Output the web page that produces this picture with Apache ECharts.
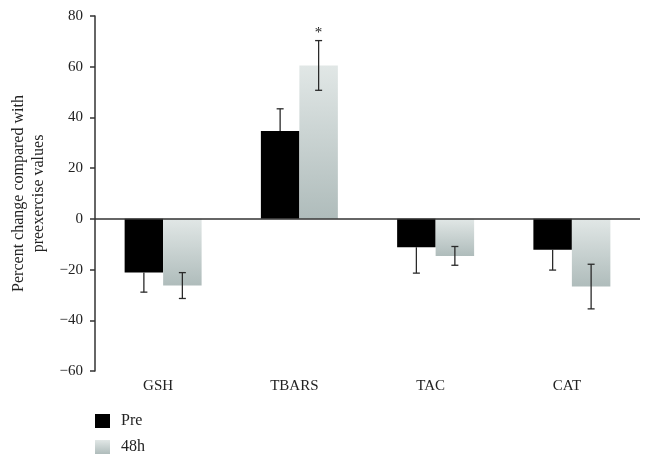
<!DOCTYPE html>
<html>
<head>
<meta charset="utf-8">
<script src="https://cdn.jsdelivr.net/npm/echarts@6/dist/echarts.min.js"></script>
<style>html,body{margin:0;padding:0;background:#fff}#c{width:650px;height:462px}</style>
</head>
<body>
<div id="c"></div>
<script>
var categories = ['GSH', 'TBARS', 'TAC', 'CAT'];
var preValues = [-21.2, 34.6, -11.2, -12.2];
var preErrors = [7.7, 8.8, 10.2, 8.0];
var h48Values = [-26.3, 60.5, -14.6, -26.7];
var h48Errors = [5.1, 9.8, 3.7, 8.8];
var h48Sig = ['', '*', '', ''];
var yTicks = { min: -60, max: 80, interval: 20 };
var seriesNames = ['Pre', '48h'];

var FONT = 'Liberation Serif';
var BAR_W = 0.2825;
var grad = new echarts.graphic.LinearGradient(0, 0, 0, 1, [
  { offset: 0, color: '#e1e7e6' },
  { offset: 1, color: '#afbcbb' }
]);

function errSeries(vals, errs, side, sig, outwardOnly) {
  var data = vals.map(function (v, i) { return [i, v, errs[i], sig ? sig[i] : '']; });
  return {
    type: 'custom',
    silent: true,
    z: 5,
    data: data,
    renderItem: function (params, api) {
      var i = api.value(0), v = api.value(1), e = api.value(2);
      var band = api.size([1, 0])[0];
      var off = side * band * BAR_W / 2;
      var hi = v + e, lo = v - e;
      if (outwardOnly) { if (v >= 0) { lo = v; } else { hi = v; } }
      var pHi = api.coord([i, hi]);
      var pLo = api.coord([i, lo]);
      var x = pHi[0] + off;
      var cap = 3.5;
      var st = { stroke: '#2a2a2a', lineWidth: 1.3 };
      var children = [
        { type: 'line', shape: { x1: x, y1: pHi[1], x2: x, y2: pLo[1] }, style: st }
      ];
      if (!outwardOnly || v >= 0) children.push({ type: 'line', shape: { x1: x - cap, y1: pHi[1], x2: x + cap, y2: pHi[1] }, style: st });
      if (!outwardOnly || v < 0) children.push({ type: 'line', shape: { x1: x - cap, y1: pLo[1], x2: x + cap, y2: pLo[1] }, style: st });
      var s = data[params.dataIndex][3];
      if (s) {
        children.push({ type: 'text', style: { text: s, x: x, y: pHi[1] - 8, align: 'center', verticalAlign: 'middle', font: '15px "' + FONT + '"', fill: '#222' } });
      }
      return { type: 'group', children: children };
    }
  };
}

var chart = echarts.init(document.getElementById('c'), null, { renderer: 'canvas' });
chart.setOption({
  animation: false,
  backgroundColor: '#fff',
  textStyle: { fontFamily: FONT },
  grid: { left: 95, right: 10, top: 16, bottom: 91 },
  legend: {
    orient: 'vertical',
    left: 95, top: 413,
    padding: 0,
    itemWidth: 15, itemHeight: 14, itemGap: 10,
    textStyle: { fontFamily: FONT, fontSize: 16, color: '#222', padding: [0, 0, 0, 6] },
    data: [
      { name: seriesNames[0], icon: 'rect' },
      { name: seriesNames[1], icon: 'rect' }
    ]
  },
  xAxis: {
    type: 'category',
    data: categories,
    axisLine: { show: false },
    axisTick: { show: false },
    axisLabel: { fontFamily: FONT, fontSize: 15, color: '#222', margin: 8, padding: [0, 10, 0, 0] }
  },
  yAxis: {
    type: 'value',
    min: yTicks.min, max: yTicks.max, interval: yTicks.interval,
    name: 'Percent change compared with\npreexercise values',
    nameLocation: 'middle',
    nameGap: 45,
    nameTextStyle: { fontFamily: FONT, fontSize: 16, color: '#222', lineHeight: 20 },
    axisLine: { show: true, lineStyle: { color: '#333', width: 1.5 } },
    axisTick: { show: true, length: 5, lineStyle: { color: '#333', width: 1.5 } },
    axisLabel: {
      fontFamily: FONT, fontSize: 15, color: '#222', margin: 12,
      formatter: function (v) { return v < 0 ? '\u2212' + Math.abs(v) : String(v); }
    },
    splitLine: { show: false }
  },
  series: [
    {
      name: seriesNames[0], type: 'bar', data: preValues,
      barWidth: (BAR_W * 100) + '%', barGap: '0%',
      itemStyle: { color: '#000' },
      markLine: {
        silent: true, symbol: 'none', label: { show: false },
        lineStyle: { color: '#333', width: 1.5, type: 'solid' },
        data: [{ yAxis: 0 }]
      }
    },
    {
      name: seriesNames[1], type: 'bar', data: h48Values,
      barWidth: (BAR_W * 100) + '%', barGap: '0%',
      itemStyle: { color: grad }
    },
    errSeries(preValues, preErrors, -1, null, true),
    errSeries(h48Values, h48Errors, 1, h48Sig, false)
  ]
});
</script>
</body>
</html>
